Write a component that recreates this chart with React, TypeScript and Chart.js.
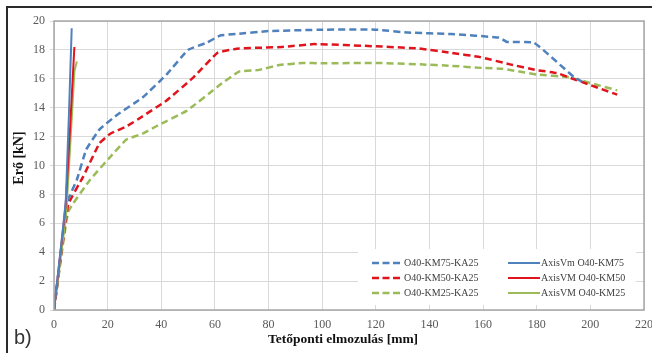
import React, { useEffect, useRef } from "react";
import { Chart, registerables } from "chart.js";

Chart.register(...registerables);

// ---- data ----
const xTickValues = [0, 20, 40, 60, 80, 100, 120, 140, 160, 180, 200, 220];
const yTickValues = [0, 2, 4, 6, 8, 10, 12, 14, 16, 18, 20];

const expKM75X = [0, 5, 8.5, 12, 17, 23.5, 33, 42, 50, 57, 62, 68, 80, 100, 120, 132, 148, 166, 169, 179, 194, 197];
const expKM75Y = [0, 7.5, 9, 11.1, 12.5, 13.5, 14.7, 16.3, 18, 18.5, 19, 19.1, 19.3, 19.4, 19.4, 19.2, 19.1, 18.85, 18.55, 18.5, 16.1, 15.8];

const expKM50X = [0, 5.3, 10.8, 17, 21, 27, 33, 42, 52, 61, 69, 85, 97, 120, 136, 148, 159, 170, 180, 187.5, 193.5, 210];
const expKM50Y = [0, 7.3, 9.2, 11.55, 12.2, 12.7, 13.4, 14.5, 16.1, 17.8, 18.1, 18.2, 18.4, 18.25, 18.1, 17.8, 17.5, 17.0, 16.6, 16.4, 16.0, 14.9];

const expKM25X = [0, 5.3, 13.4, 21, 27, 33, 38, 49.6, 62, 69, 76, 84, 93, 100, 120, 136.5, 148, 160, 167, 180, 192, 210];
const expKM25Y = [0, 6.8, 9.0, 10.6, 11.8, 12.2, 12.7, 13.8, 15.6, 16.5, 16.6, 16.95, 17.1, 17.07, 17.1, 17.0, 16.9, 16.75, 16.7, 16.3, 16.1, 15.2];

const vmKM75X = [0, 4.4, 6.6];
const vmKM75Y = [0, 7.6, 19.5];
const vmKM50X = [0, 4.4, 7.6];
const vmKM50Y = [0, 7.4, 18.2];
const vmKM25X = [0, 4.6, 7.6, 8.5];
const vmKM25Y = [0, 6.8, 16.5, 17.2];

const seriesNames = [
  "O40-KM75-KA25",
  "O40-KM50-KA25",
  "O40-KM25-KA25",
  "AxisVm O40-KM75",
  "AxisVM O40-KM50",
  "AxisVM O40-KM25",
];

const xTitle = "Tetőponti elmozulás [mm]";
const yTitle = "Erő [kN]";
const panelLabel = "b)";

const BLUE = "#4f81bd";
const RED = "#e0141c";
const GREEN = "#9bbb59";

const pts = (xs: number[], ys: number[]) => xs.map((x, i) => ({ x, y: ys[i] }));

const decoPlugin = {
  id: "deco",
  beforeDraw(chart: any) {
    const ctx = chart.ctx;
    ctx.save();
    ctx.fillStyle = "#ffffff";
    ctx.fillRect(0, 0, chart.width, chart.height);
    ctx.restore();
  },
  afterDraw(chart: any) {
    const ctx = chart.ctx;
    const a = chart.chartArea;
    ctx.save();
    // plot area border
    ctx.strokeStyle = "#a6a6a6";
    ctx.lineWidth = 1.5;
    ctx.strokeRect(a.left, a.top, a.right - a.left, a.bottom - a.top);
    // outer frame (top + left)
    ctx.strokeStyle = "#2b2b2b";
    ctx.lineWidth = 2;
    ctx.beginPath();
    ctx.moveTo(7, chart.height);
    ctx.lineTo(7, 7);
    ctx.lineTo(chart.width, 7);
    ctx.stroke();

    // legend
    ctx.fillStyle = "#ffffff";
    ctx.fillRect(358, 249, 278, 56);
    const rows = [263, 278, 293];
    const colors = [BLUE, RED, GREEN];
    ctx.font = "10px 'Liberation Serif', serif";
    ctx.textBaseline = "middle";
    ctx.textAlign = "left";
    for (let i = 0; i < 3; i++) {
      const y = rows[i];
      ctx.strokeStyle = colors[i];
      ctx.lineWidth = 2.5;
      ctx.setLineDash([7, 3.5]);
      ctx.beginPath();
      ctx.moveTo(372, y);
      ctx.lineTo(400, y);
      ctx.stroke();
      ctx.setLineDash([]);
      ctx.lineWidth = 2;
      ctx.beginPath();
      ctx.moveTo(508, y);
      ctx.lineTo(540, y);
      ctx.stroke();
      ctx.fillStyle = "#404040";
      ctx.fillText(seriesNames[i], 404, y);
      ctx.fillText(seriesNames[i + 3], 541, y);
    }

    // axis titles
    ctx.fillStyle = "#111111";
    ctx.font = "bold 13.5px 'Liberation Serif', serif";
    ctx.textAlign = "center";
    ctx.textBaseline = "middle";
    ctx.fillText(xTitle, 343, 340);
    ctx.save();
    ctx.translate(19, 158);
    ctx.rotate(-Math.PI / 2);
    ctx.font = "bold 14px 'Liberation Serif', serif";
    ctx.fillText(yTitle, 0, 0);
    ctx.restore();

    // panel label
    ctx.fillStyle = "#333333";
    ctx.font = "20px 'Liberation Sans', sans-serif";
    ctx.textAlign = "left";
    ctx.textBaseline = "alphabetic";
    ctx.fillText(panelLabel, 14, 344);
    ctx.restore();
  },
};

export default function App() {
  const ref = useRef<HTMLCanvasElement | null>(null);

  useEffect(() => {
    if (!ref.current) return;
    const mk = (label: string, xs: number[], ys: number[], color: string, dashed: boolean) => ({
      label,
      data: pts(xs, ys),
      borderColor: color,
      backgroundColor: color,
      borderWidth: dashed ? 2.5 : 2,
      borderDash: dashed ? [7, 4] : [],
      pointRadius: 0,
      showLine: true,
      tension: 0.1,
      fill: false,
    });
    const chart = new Chart(ref.current, {
      type: "scatter",
      data: {
        datasets: [
          mk(seriesNames[3], vmKM75X, vmKM75Y, BLUE, false),
          mk(seriesNames[4], vmKM50X, vmKM50Y, RED, false),
          mk(seriesNames[5], vmKM25X, vmKM25Y, GREEN, false),
          mk(seriesNames[0], expKM75X, expKM75Y, BLUE, true),
          mk(seriesNames[1], expKM50X, expKM50Y, RED, true),
          mk(seriesNames[2], expKM25X, expKM25Y, GREEN, true),
        ],
      },
      options: {
        responsive: false,
        animation: false,
        layout: { padding: { left: 0, right: 8, top: 21, bottom: 0 } },
        plugins: { legend: { display: false }, tooltip: { enabled: false } },
        scales: {
          x: {
            type: "linear",
            min: 0,
            max: 220,
            afterBuildTicks: (s: any) => {
              s.ticks = xTickValues.map((v) => ({ value: v }));
            },
            afterFit: (s: any) => {
              s.height = 43;
              s.paddingLeft = 0;
              s.paddingRight = 0;
            },
            grid: { color: "#d9d9d9", lineWidth: 1, drawTicks: false },
            border: { display: false },
            ticks: {
              color: "#595959",
              padding: 8,
              maxRotation: 0,
              font: { family: "'Liberation Serif', serif", size: 12 },
            },
          },
          y: {
            type: "linear",
            min: 0,
            max: 20,
            afterBuildTicks: (s: any) => {
              s.ticks = yTickValues.map((v) => ({ value: v }));
            },
            afterFit: (s: any) => {
              s.width = 54;
              s.paddingTop = 0;
              s.paddingBottom = 0;
            },
            grid: { color: "#d9d9d9", lineWidth: 1, drawTicks: true, tickLength: 4 },
            border: { display: false },
            ticks: {
              color: "#595959",
              padding: 5,
              font: { family: "'Liberation Serif', serif", size: 12 },
            },
          },
        },
      },
      plugins: [decoPlugin],
    } as any);
    return () => chart.destroy();
  }, []);

  return (
    <div style={{ position: "fixed", left: 0, top: 0, width: 652, height: 353, background: "#fff" }}>
      <canvas ref={ref} width={652} height={353} style={{ display: "block" }} />
    </div>
  );
}
